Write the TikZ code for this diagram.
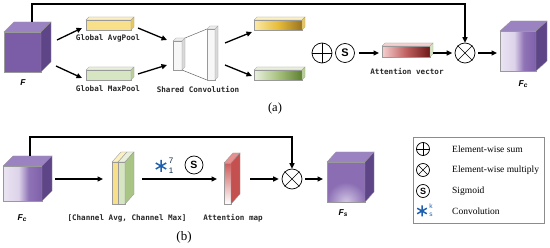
\documentclass[tikz,border=0pt]{standalone}
\usepackage{fontspec}
\setmainfont{Liberation Serif}
\newfontfamily\monofont{DejaVu Sans Mono}
\newfontfamily\sansfont{Liberation Sans}
\usetikzlibrary{arrows.meta}

\definecolor{Ffront}{HTML}{7B5CA6}
\definecolor{Ftop}{HTML}{9B83C2}
\definecolor{Fside}{HTML}{5E4588}
\definecolor{fcL}{HTML}{EAE4F2}
\definecolor{fcL2}{HTML}{DDD3EA}
\definecolor{fcM}{HTML}{8F73B6}
\definecolor{fcR}{HTML}{7E60AA}
\definecolor{fsF}{HTML}{8A6DB3}
\definecolor{fsH}{HTML}{D2C6E4}
\definecolor{yelF}{HTML}{F8DF8A}
\definecolor{yelT}{HTML}{FCEFC0}
\definecolor{yelS}{HTML}{E8C860}
\definecolor{yelL}{HTML}{FBEAA8}
\definecolor{yelM}{HTML}{E6BC3A}
\definecolor{yelD}{HTML}{9A7420}
\definecolor{grnF}{HTML}{D6E5C2}
\definecolor{grnT}{HTML}{E8F0DC}
\definecolor{grnS}{HTML}{B8CF98}
\definecolor{grnL}{HTML}{EAF1DF}
\definecolor{grnM}{HTML}{A8C27E}
\definecolor{grnD}{HTML}{5E8030}
\definecolor{grnSide}{HTML}{A9C585}
\definecolor{redL}{HTML}{F5D0D0}
\definecolor{redM}{HTML}{C06060}
\definecolor{redD}{HTML}{6E1818}
\definecolor{mapR}{HTML}{D05A5A}
\definecolor{mapS}{HTML}{C45050}
\definecolor{mapT}{HTML}{E89090}
\definecolor{convB}{HTML}{1F5FAF}

\pgfdeclarehorizontalshading{fcshade}{100bp}{color(0bp)=(fcL); color(25bp)=(fcL); color(45bp)=(fcL2); color(58bp)=(fcM); color(75bp)=(fcR); color(100bp)=(fcR)}
\pgfdeclarehorizontalshading{yelshade}{100bp}{color(0bp)=(yelL); color(25bp)=(yelL); color(50bp)=(yelM); color(75bp)=(yelD); color(100bp)=(yelD)}
\pgfdeclarehorizontalshading{grnshade}{100bp}{color(0bp)=(grnL); color(25bp)=(grnL); color(50bp)=(grnM); color(75bp)=(grnD); color(100bp)=(grnD)}
\pgfdeclarehorizontalshading{redshade}{100bp}{color(0bp)=(redL); color(25bp)=(redL); color(50bp)=(redM); color(75bp)=(redD); color(100bp)=(redD)}

% front x1 y1 x2 y2, dx dy, front/top/side styles
\newcommand\boxthree[9]{%
  \path[#7] (#1,#2) rectangle (#3,#4);
  \path[#8] (#1,#2) -- (#1+#5,#2-#6) -- (#3+#5,#2-#6) -- (#3,#2) -- cycle;
  \path[#9] (#3,#2) -- (#3+#5,#2-#6) -- (#3+#5,#4-#6) -- (#3,#4) -- cycle;
}
\newcommand\convsym[3]{%
  \draw[convB, line width=1.5pt] (#1,#2-#3) -- (#1,#2+#3)
    (#1-0.87*#3,#2-0.5*#3) -- (#1+0.87*#3,#2+0.5*#3)
    (#1-0.87*#3,#2+0.5*#3) -- (#1+0.87*#3,#2-0.5*#3);
}

\tikzset{
  arr/.style={line width=1.3pt, -{Triangle[length=5.5pt,width=5pt]}},
  op/.style={circle, draw, line width=0.7pt, minimum size=20pt, inner sep=0pt},
  opsmall/.style={circle, draw, line width=0.7pt, minimum size=13pt, inner sep=0pt},
  lab/.style={font=\monofont\bfseries\fontsize{7.6}{9}\selectfont, text=black!85, inner sep=0pt},
  flab/.style={font=\sansfont\bfseries\itshape\fontsize{8.5}{9}\selectfont, inner sep=0pt},
  leg/.style={font=\fontsize{9.5}{11}\selectfont, inner sep=0pt, anchor=west},
  edge/.style={draw=black!40, line width=0.35pt},
  hold/.style={inner sep=0pt, outer sep=0pt}
}

\begin{document}
\begin{tikzpicture}[x=1pt,y=-1pt]
\useasboundingbox (0,0) rectangle (550,248);

% ================= (a) =================
% F cube
\boxthree{4}{32}{41}{72}{10}{10}{fill=Ffront,edge}{fill=Ftop,edge}{fill=Fside,edge}
\node[hold, minimum width=47pt, minimum height=50pt] (F) at (27.5,47) {};
\node[flab] (Flab) at (23,83) {F};

% pooled bars
\boxthree{86}{20}{131}{30}{3}{3}{fill=yelF,edge}{fill=yelT,edge}{fill=yelS,edge}
\node[hold, minimum width=48pt, minimum height=13pt] (avg) at (109.5,25) {};
\node[lab] (avglab) at (108,38) {Global AvgPool};
\boxthree{86}{70}{131}{80}{3}{3}{fill=grnF,edge}{fill=grnT,edge}{fill=grnS,edge}
\node[hold, minimum width=48pt, minimum height=13pt] (max) at (109.5,75) {};
\node[lab] (maxlab) at (108,89) {Global MaxPool};

% shared convolution
\draw[black!60, line width=0.5pt] (185,38) -- (207,29) (182,70) -- (207,80);
\boxthree{173}{41}{182}{70}{3}{3}{fill=gray!6,edge}{fill=gray!14,edge}{fill=gray!30,edge}
\boxthree{207}{29}{215}{80}{3}{3}{fill=gray!6,edge}{fill=gray!14,edge}{fill=gray!30,edge}
\node[hold, minimum width=45pt, minimum height=54pt] (conv) at (195.5,54) {};
\node[lab] (convlab) at (198,89) {Shared Convolution};

% conv outputs
\boxthree{254}{20}{302}{30}{3}{3}{shade,shading=yelshade,edge}{fill=yelT,edge}{fill=yelS,edge}
\node[hold, minimum width=51pt, minimum height=13pt] (avgo) at (279.5,25) {};
\boxthree{254}{70}{302}{80}{3}{3}{shade,shading=grnshade,edge}{fill=grnT,edge}{fill=grnS,edge}
\node[hold, minimum width=51pt, minimum height=13pt] (maxo) at (279.5,75) {};

% arrows (a)
\coordinate (Fa1) at (57,40);   \coordinate (avgin) at (82,28);
\coordinate (Fa2) at (56,66);   \coordinate (maxin) at (82,78);
\coordinate (avgout) at (138,28); \coordinate (convin1) at (167,40);
\coordinate (maxout) at (138,74); \coordinate (convin2) at (167,65);
\coordinate (convout1) at (225,43); \coordinate (avgoin) at (252,32);
\coordinate (convout2) at (225,65); \coordinate (maxoin) at (252,76);
\draw[arr] (Fa1) -- (avgin);
\draw[arr] (Fa2) -- (maxin);
\draw[arr] (avgout) -- (convin1);
\draw[arr] (maxout) -- (convin2);
\draw[arr] (convout1) -- (avgoin);
\draw[arr] (convout2) -- (maxoin);

% sum, sigmoid
\node[op] (sum) at (322,53) {};
\draw[line width=0.7pt] (sum.north) -- (sum.south) (sum.west) -- (sum.east);
\node[op, minimum size=19pt, font=\sansfont\bfseries\fontsize{11}{11}\selectfont] (sig) at (345,53) {S};

% attention vector
\boxthree{382}{46}{430}{57}{3}{3}{shade,shading=redshade,edge}{fill=redL,edge}{fill=grnF,edge}
\node[hold, minimum width=48pt, minimum height=12pt] (vec) at (406,53) {};
\node[lab] (veclab) at (407,71) {Attention vector};

% multiply
\node[op] (mulA) at (465,53) {};
\draw[line width=0.7pt] (mulA.north east) -- (mulA.south west) (mulA.north west) -- (mulA.south east);

% Fc cube (a)
\boxthree{500}{31}{536}{71}{11}{10}{shade,shading=fcshade,edge}{fill=Ftop,edge}{fill=Fside,edge}
\node[hold, minimum width=36pt, minimum height=40pt] (FcA) at (518,53) {};
\node[flab] (FcAlab) at (523,84) {F\raisebox{-0.6pt}{\fontsize{6.5}{6}\selectfont c}};

\draw[arr, shorten <=4pt, shorten >=3pt] (sig.east) -- (vec.west);
\draw[arr, shorten <=3pt, shorten >=2.5pt] (vec.east) -- (mulA.west);
\draw[arr, shorten <=3pt, shorten >=3pt] (mulA.east) -- (FcA.west);

% skip line (a)
\coordinate (Ftop) at (32,22);
\draw[arr] (Ftop) -- (32,4) -| (mulA.north);

\node[font=\fontsize{12.5}{14}\selectfont, inner sep=0pt] (capa) at (275,108) {(a)};

% ================= (b) =================
% Fc cube (b)
\boxthree{3}{166}{42}{201}{10}{10}{shade,shading=fcshade,edge}{fill=Ftop,edge}{fill=Fside,edge}
\node[hold, minimum width=49pt, minimum height=10pt] (FcB) at (27.5,179) {};
\node[flab] (FcBlab) at (22,218) {F\raisebox{-0.6pt}{\fontsize{6.5}{6}\selectfont c}};

% channel stack
\path[fill=yelF,edge] (112,162) rectangle (118,204);
\path[fill=yelT,edge] (112,162) -- (121,152) -- (127,152) -- (118,162) -- cycle;
\path[fill=grnF,edge] (118,162) rectangle (125,204);
\path[fill=grnT,edge] (118,162) -- (127,152) -- (134,152) -- (125,162) -- cycle;
\path[fill=grnSide,edge] (125,162) -- (134,152) -- (134,194) -- (125,204) -- cycle;
\node[hold, minimum width=22pt, minimum height=10pt] (stk) at (123,179) {};
\node[lab] (stklab) at (127,218) {[Channel Avg, Channel Max]};

% conv symbol and sigmoid (b)
\node[hold] (convb) at (161,166) {};
\convsym{161}{166}{6}
\node[font=\sansfont\fontsize{8}{8}\selectfont, text=convB!40!black, inner sep=0pt] (k7) at (171,161) {7};
\node[font=\sansfont\fontsize{8}{8}\selectfont, text=convB!40!black, inner sep=0pt] (k1) at (171,171) {1};
\node[op, minimum size=18pt, font=\sansfont\bfseries\fontsize{10.5}{11}\selectfont] (sigb) at (194,165) {S};

% attention map
\boxthree{224}{163}{231}{204}{9}{10}{shade, top color=mapR, bottom color=white, edge}{fill=mapT,edge}{fill=mapS,edge}
\node[hold, minimum width=16pt, minimum height=10pt] (map) at (232,179) {};
\node[lab] (maplab) at (233,218) {Attention map};

% multiply (b)
\node[op] (mulB) at (292,179) {};
\draw[line width=0.7pt] (mulB.north east) -- (mulB.south west) (mulB.north west) -- (mulB.south east);

% Fs cube
\path[fill=fsF,edge] (327,162) rectangle (365,202);
\begin{scope}
  \clip (327,162) rectangle (365,202);
  \shade[inner color=fsH, outer color=fsF] (346,202) circle (20);
\end{scope}
\draw[black!40, line width=0.35pt] (327,162) rectangle (365,202);
\path[fill=Ftop,edge] (327,162) -- (336,152) -- (374,152) -- (365,162) -- cycle;
\path[fill=Fside,edge] (365,162) -- (374,152) -- (374,192) -- (365,202) -- cycle;
\node[hold, minimum width=47pt, minimum height=10pt] (Fs) at (350.5,179) {};
\node[flab] (Fslab) at (343,213) {F\raisebox{-0.6pt}{\fontsize{6.5}{6}\selectfont s}};

% arrows (b)
\draw[arr, shorten <=3pt, shorten >=9pt] (FcB.east) -- (stk.west);
\draw[arr, shorten <=8pt, shorten >=7pt] (stk.east) -- (map.west);
\draw[arr, shorten <=10pt, shorten >=3pt] (map.east) -- (mulB.west);
\draw[arr, shorten <=3pt, shorten >=4pt] (mulB.east) -- (Fs.west);
\coordinate (FcBtop) at (30,156);
\draw[arr] (FcBtop) -- (30,137) -| (mulB.north);

\node[font=\fontsize{13}{14}\selectfont, inner sep=0pt] (capb) at (184,237) {(b)};

% ================= legend =================
\node[draw=black!45, line width=0.8pt, minimum width=131pt, minimum height=86pt, inner sep=0pt] (legend) at (478.5,180) {};
\node[opsmall] (lsum) at (423,149) {};
\draw[line width=0.7pt] (lsum.north) -- (lsum.south) (lsum.west) -- (lsum.east);
\node[opsmall] (lmul) at (423,170) {};
\draw[line width=0.7pt] (lmul.north east) -- (lmul.south west) (lmul.north west) -- (lmul.south east);
\node[opsmall, font=\sansfont\bfseries\fontsize{9}{9}\selectfont] (lsig) at (423,191) {S};
\node[hold] (lconv) at (422,211) {};
\convsym{422}{211}{5.5}
\node[font=\sansfont\fontsize{6.5}{6}\selectfont, text=convB, inner sep=0pt] (lk) at (431,206.5) {k};
\node[font=\sansfont\fontsize{6.5}{6}\selectfont, text=convB, inner sep=0pt] (ls) at (431,214.5) {s};
\node[leg] (t1) at (452,149) {Element-wise sum};
\node[leg] (t2) at (452,170) {Element-wise multiply};
\node[leg] (t3) at (452,191) {Sigmoid};
\node[leg] (t4) at (452,211) {Convolution};
\end{tikzpicture}
\end{document}
